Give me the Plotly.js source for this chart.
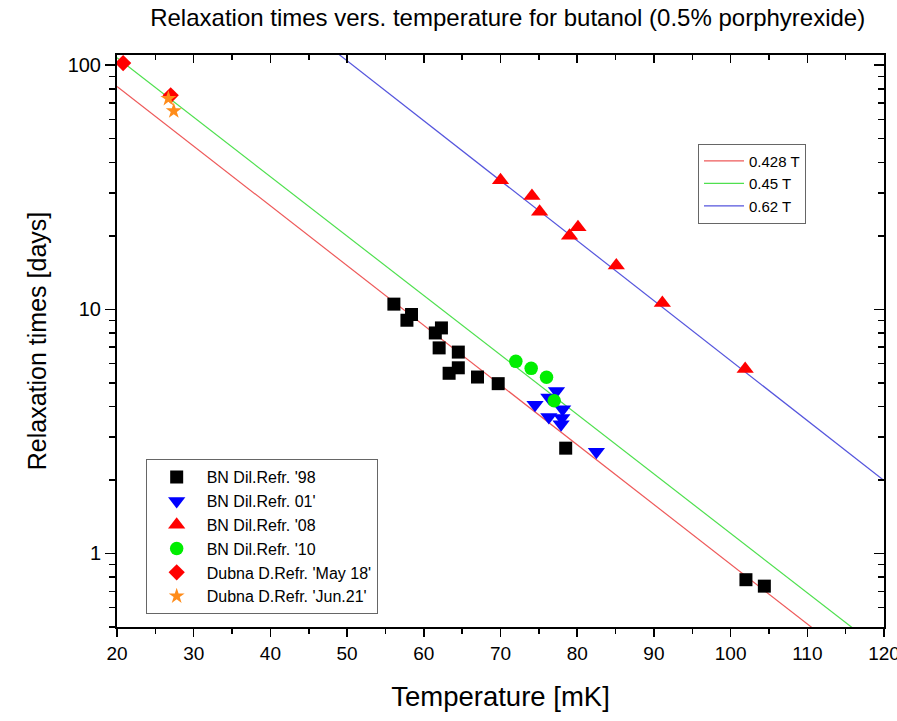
<!DOCTYPE html>
<html>
<head>
<meta charset="utf-8">
<script src="https://cdn.plot.ly/plotly-3.0.1.min.js"></script>
<style>html,body{margin:0;padding:0;background:#fff;}#chart{width:897px;height:721px;}</style>
</head>
<body>
<div id="chart"></div>
<script>
// ---- data ----
const T98 = [56.1, 58.4, 57.8, 62.3, 61.5, 62.0, 64.5, 64.5, 63.3, 67.0, 69.7, 78.5, 102.0, 104.4];
const V98 = [10.5, 9.52, 9.02, 8.39, 8.00, 6.95, 6.68, 5.76, 5.47, 5.28, 4.96, 2.70, 0.781, 0.735];
const T01 = [77.3, 74.5, 76.3, 78.1, 76.3, 78.0, 77.9, 82.5];
const V01 = [4.63, 4.07, 4.35, 3.90, 3.62, 3.59, 3.38, 2.61];
const T08 = [70.0, 74.1, 75.1, 80.1, 79.0, 85.1, 91.1, 101.9];
const V08 = [33.8, 29.1, 25.1, 21.7, 20.0, 15.1, 10.6, 5.69];
const T10 = [72.0, 74.0, 76.0, 77.0];
const V10 = [6.12, 5.73, 5.27, 4.22];
const T18 = [20.8, 27.0];
const V18 = [102, 75.2];
const T21 = [26.7, 27.4];
const V21 = [72.9, 64.9];
// fit lines (end points at T = 20 and 120 mK)
const fitT = [20, 120];
const fit0428 = [81.8, 0.293];
const fit045 = [107.2, 0.394];
const fit062 = [568, 1.99];
const lineNames = ['0.428 T', '0.45 T', '0.62 T'];
const seriesNames = ["BN Dil.Refr. '98", "BN Dil.Refr. 01'", "BN Dil.Refr. '08", "BN Dil.Refr. '10", "Dubna D.Refr. 'May 18'", "Dubna D.Refr. 'Jun.21'"];
const xTicks = [20, 30, 40, 50, 60, 70, 80, 90, 100, 110, 120];
const yTicks = [1, 10, 100];

const FONT = 'Liberation Sans, Arial, Helvetica, sans-serif';

function lineTrace(y, name, color) {
  return {x: fitT, y: y, name: name, type: 'scatter', mode: 'lines',
    line: {color: color, width: 1.2}, legend: 'legend', hoverinfo: 'skip'};
}
function ptTrace(x, y, name, symbol, color, size) {
  return {x: x, y: y, name: name, type: 'scatter', mode: 'markers',
    marker: {symbol: symbol, color: color, size: size, line: {width: 0}},
    legend: 'legend2', cliponaxis: false};
}

const traces = [
  lineTrace(fit0428, lineNames[0], '#ee5a5a'),
  lineTrace(fit045, lineNames[1], '#4fe04f'),
  lineTrace(fit062, lineNames[2], '#5555dd'),
  ptTrace(T98, V98, seriesNames[0], 'square', '#000000', 13),
  ptTrace(T01, V01, seriesNames[1], 'triangle-down', '#0000ff', 15),
  ptTrace(T08, V08, seriesNames[2], 'triangle-up', '#ff0000', 15),
  ptTrace(T10, V10, seriesNames[3], 'circle', '#00ee00', 13.5),
  ptTrace(T18, V18, seriesNames[4], 'diamond', '#ff0000', 12.5),
  ptTrace(T21, V21, seriesNames[5], 'star', '#ff8c1a', 12),
  {x: [], y: [], xaxis: 'x2', yaxis: 'y2', type: 'scatter', mode: 'markers', showlegend: false, hoverinfo: 'skip'}
];

const yRange = [Math.log10(0.5), Math.log10(110)];
const tickBase = {tickcolor: '#000', tickwidth: 1.5, showgrid: false, zeroline: false};

const layout = {
  width: 897, height: 721,
  margin: {l: 117, r: 13, t: 55, b: 94, pad: 0},
  paper_bgcolor: '#ffffff', plot_bgcolor: '#ffffff',
  font: {family: FONT, color: '#000'},
  showlegend: true,
  title: {text: 'Relaxation times vers. temperature for butanol (0.5% porphyrexide)',
    font: {family: FONT, size: 24, color: '#000'}, x: 0.566, xanchor: 'center', y: 0.975, yanchor: 'middle', yref: 'container'},
  xaxis: Object.assign({}, tickBase, {
    range: [20, 120], tickvals: xTicks, ticks: 'outside', ticklen: 8,
    showline: true, linewidth: 2, linecolor: '#000', mirror: true,
    tickfont: {size: 19, family: FONT}, ticklabeloverflow: 'allow',
    minor: {dtick: 5, tick0: 20, ticks: 'outside', ticklen: 5, tickwidth: 1.5, tickcolor: '#000', showgrid: false},
    title: {text: 'Temperature [mK]', font: {size: 27.5, family: FONT}, standoff: 24}
  }),
  yaxis: Object.assign({}, tickBase, {
    type: 'log', range: yRange, tickvals: yTicks, ticks: 'outside', ticklen: 10,
    showline: true, linewidth: 2, linecolor: '#000', mirror: true,
    tickfont: {size: 20, family: FONT},
    minor: {dtick: 'D1', ticks: 'outside', ticklen: 6, tickwidth: 1.5, tickcolor: '#000', showgrid: false},
    title: {text: 'Relaxation times [days]', font: {size: 25, family: FONT}, standoff: 14}
  }),
  xaxis2: Object.assign({}, tickBase, {
    overlaying: 'x', side: 'top', anchor: 'y2', range: [20, 120], tickvals: xTicks,
    ticks: 'inside', ticklen: 8, showticklabels: false, showline: false,
    minor: {dtick: 5, tick0: 20, ticks: 'inside', ticklen: 5, tickwidth: 1.5, tickcolor: '#000', showgrid: false}
  }),
  yaxis2: Object.assign({}, tickBase, {
    overlaying: 'y', side: 'right', anchor: 'x2', type: 'log', range: yRange, tickvals: yTicks,
    ticks: 'inside', ticklen: 10, showticklabels: false, showline: false,
    minor: {dtick: 'D1', ticks: 'inside', ticklen: 6, tickwidth: 1.5, tickcolor: '#000', showgrid: false}
  }),
  legend: {x: 0.7575, y: 0.845, xanchor: 'left', yanchor: 'top', bgcolor: '#fff',
    bordercolor: '#666', borderwidth: 1, font: {size: 15, family: FONT}, tracegroupgap: 0,
    itemwidth: 40},
  legend2: {x: 0.0374, y: 0.2934, xanchor: 'left', yanchor: 'top', bgcolor: '#fff',
    bordercolor: '#666', borderwidth: 1, font: {size: 16, family: FONT}, tracegroupgap: 0,
    itemwidth: 50}
};

Plotly.newPlot('chart', traces, layout, {displayModeBar: false, staticPlot: true});
</script>
</body>
</html>
